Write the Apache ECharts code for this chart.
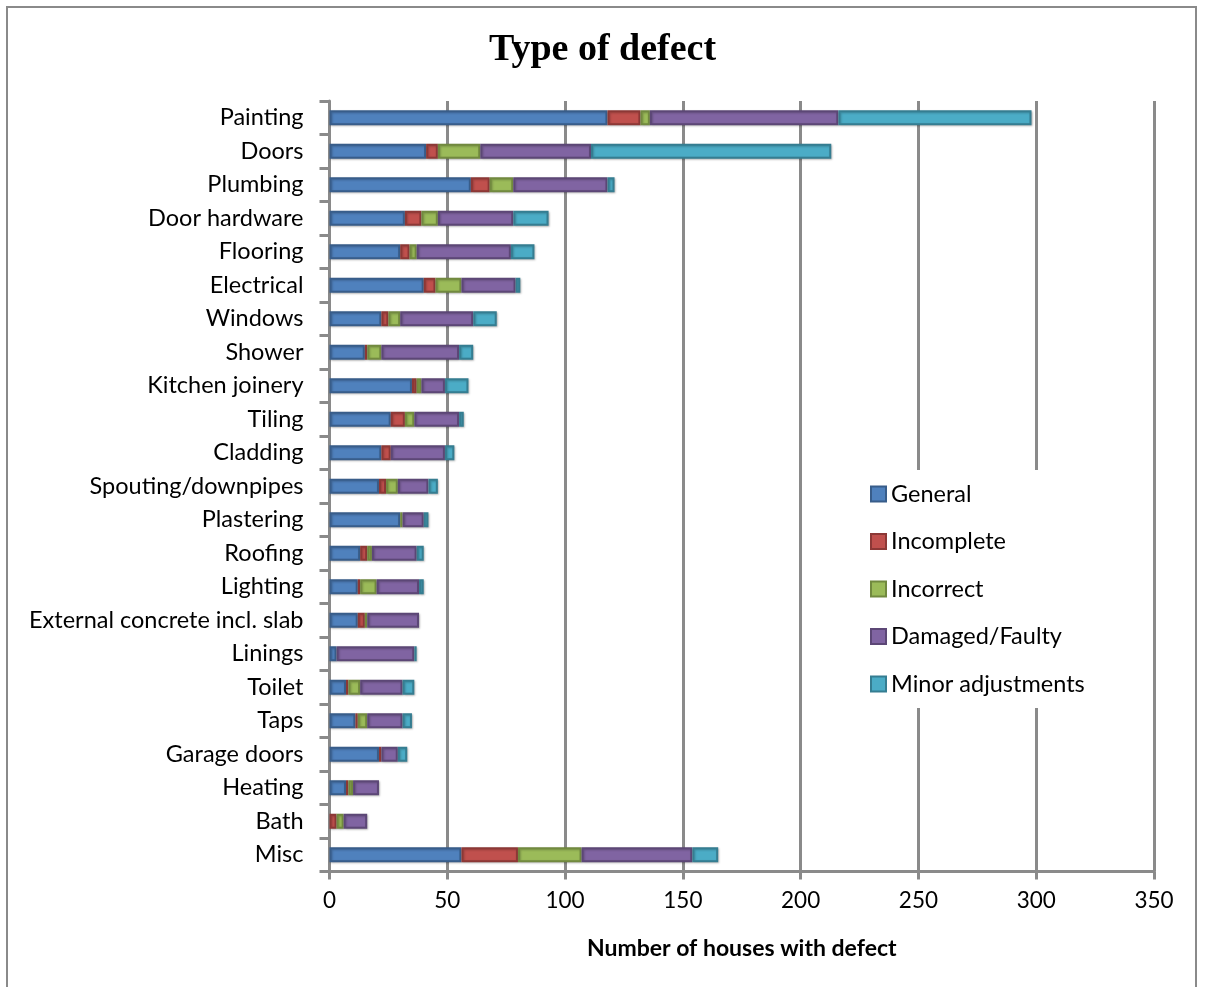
<!DOCTYPE html>
<html>
<head>
<meta charset="utf-8">
<style>
  html, body { margin: 0; padding: 0; background: #fff; }
  #chart { width: 1205px; height: 987px; }
</style>
<script src="https://cdn.jsdelivr.net/npm/echarts@6/dist/echarts.min.js"></script>
</head>
<body>
<div id="chart"></div>
<script>
// Defect categories, top to bottom
const categories = ['Painting', 'Doors', 'Plumbing', 'Door hardware', 'Flooring', 'Electrical',
  'Windows', 'Shower', 'Kitchen joinery', 'Tiling', 'Cladding', 'Spouting/downpipes',
  'Plastering', 'Roofing', 'Lighting', 'External concrete incl. slab', 'Linings', 'Toilet',
  'Taps', 'Garage doors', 'Heating', 'Bath', 'Misc'];

// Number of houses per defect type
const general     = [118, 41, 60, 32, 30, 40, 22, 15, 35, 26, 22, 21, 30, 13, 12, 12, 3, 7, 11, 21, 7, 0, 56];
const incomplete  = [14, 5, 8, 7, 4, 5, 3, 1, 2, 6, 4, 3, 0, 3, 1, 3, 0, 1, 1, 1, 1, 3, 24];
const incorrect   = [4, 18, 10, 7, 3, 11, 5, 6, 2, 4, 0, 5, 1, 2, 7, 1, 0, 5, 4, 0, 2, 3, 27];
const damaged     = [80, 47, 40, 32, 40, 23, 31, 33, 10, 19, 23, 13, 9, 19, 18, 22, 33, 18, 15, 7, 11, 10, 47];
const minorAdjust = [82, 102, 3, 15, 10, 2, 10, 6, 10, 2, 4, 4, 2, 3, 2, 0, 1, 5, 4, 4, 0, 0, 11];

const xTicks = [0, 50, 100, 150, 200, 250, 300, 350];

const seriesDefs = [
  { name: 'General',           data: general,     fill: '#4F81BD', edge: '#385D8A' },
  { name: 'Incomplete',        data: incomplete,  fill: '#C0504D', edge: '#8C3836' },
  { name: 'Incorrect',         data: incorrect,   fill: '#9BBB59', edge: '#71893F' },
  { name: 'Damaged/Faulty',    data: damaged,     fill: '#8064A2', edge: '#5C4776' },
  { name: 'Minor adjustments', data: minorAdjust, fill: '#4BACC6', edge: '#357D91' }
];

const labelFont = 'Lato, "Open Sans", sans-serif';
const labelSize = 23.5;

const chart = echarts.init(document.getElementById('chart'), null, { renderer: 'canvas' });

chart.setOption({
  backgroundColor: '#fff',
  animation: false,
  title: {
    text: 'Type of defect',
    left: 'center',
    top: 26,
    textStyle: { fontFamily: '"Liberation Serif", serif', fontWeight: 'bold', fontSize: 38, color: '#000' }
  },
  graphic: [{
    type: 'rect',
    shape: { x: 7, y: 7, width: 1189, height: 995 },
    style: { fill: 'none', stroke: '#8a8a8a', lineWidth: 2 },
    silent: true
  }],
  legend: {
    orient: 'vertical',
    left: 862,
    top: 470,
    padding: [12, 12, 12, 8],
    backgroundColor: '#fff',
    itemWidth: 15,
    itemHeight: 15,
    itemGap: 23.5,
    icon: 'rect',
    itemStyle: { borderWidth: 2 },
    textStyle: { fontFamily: labelFont, fontSize: labelSize, color: '#000', lineHeight: 20 },
    data: seriesDefs.map(s => s.name)
  },
  grid: { left: 329.5, right: 51, top: 101, bottom: 115.5, containLabel: false },
  xAxis: {
    type: 'value',
    min: xTicks[0],
    max: xTicks[xTicks.length - 1],
    interval: xTicks[1] - xTicks[0],
    name: 'Number of houses with defect',
    nameLocation: 'middle',
    nameGap: 66,
    nameTextStyle: { fontFamily: labelFont, fontWeight: 'bold', fontSize: 23, color: '#000' },
    axisLine: { show: true, lineStyle: { color: '#8a8a8a', width: 3 } },
    axisTick: { show: true, length: 8, lineStyle: { color: '#8a8a8a', width: 3 } },
    axisLabel: { fontFamily: labelFont, fontSize: 22.5, color: '#000', margin: 18 },
    splitLine: { show: true, lineStyle: { color: '#8a8a8a', width: 3 } }
  },
  yAxis: {
    type: 'category',
    inverse: true,
    data: categories,
    axisLine: { show: true, lineStyle: { color: '#8a8a8a', width: 3 } },
    axisTick: { show: true, length: 10, lineStyle: { color: '#8a8a8a', width: 3 } },
    axisLabel: { fontFamily: labelFont, fontSize: labelSize, color: '#000', margin: 26 },
    splitLine: { show: false }
  },
  series: seriesDefs.map(s => ({
    name: s.name,
    type: 'bar',
    stack: 'defects',
    barWidth: 15,
    data: s.data.map(v => (v === 0 ? null : v)),
    itemStyle: {
      color: s.fill,
      borderColor: s.edge,
      borderWidth: 2,
      shadowColor: 'rgba(0,0,0,0.22)',
      shadowBlur: 2,
      shadowOffsetX: 1,
      shadowOffsetY: 1
    }
  }))
});
</script>
</body>
</html>
